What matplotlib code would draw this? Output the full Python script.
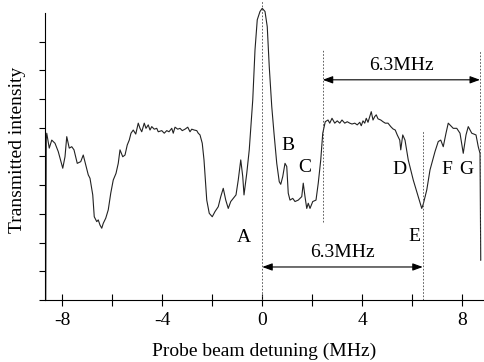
import matplotlib.pyplot as plt

plt.rcParams['font.family'] = ['Liberation Serif', 'DejaVu Serif']

# detuning (MHz) and transmitted intensity (arb. units)
detuning = [
    -8.66, -8.64, -8.62, -8.52, -8.42, -8.29, -8.16, -7.98, -7.89, -7.82,
    -7.72, -7.62, -7.53, -7.40, -7.26, -7.16, -7.06, -6.96, -6.89, -6.78,
    -6.72, -6.62, -6.56, -6.49, -6.42, -6.36, -6.26, -6.16, -6.06, -5.96,
    -5.85, -5.76, -5.69, -5.58, -5.49, -5.40, -5.32, -5.25, -5.16, -5.06,
    -4.96, -4.89, -4.82, -4.72, -4.65, -4.56, -4.49, -4.42, -4.32, -4.22,
    -4.16, -4.02, -3.92, -3.82, -3.73, -3.62, -3.56, -3.49, -3.38, -3.29,
    -3.20, -3.09, -2.98, -2.89, -2.82, -2.72, -2.62, -2.56, -2.49, -2.40,
    -2.33, -2.22, -2.12, -2.00, -1.89, -1.76, -1.66, -1.56, -1.46, -1.36,
    -1.26, -1.16, -1.05, -0.96, -0.86, -0.78, -0.73, -0.62, -0.52, -0.38,
    -0.29, -0.20, -0.09, 0.00, 0.11, 0.20, 0.28, 0.38, 0.47, 0.58,
    0.68, 0.74, 0.82, 0.91, 0.98, 1.04, 1.11, 1.22, 1.31, 1.44,
    1.58, 1.64, 1.71, 1.78, 1.84, 1.91, 2.02, 2.15, 2.24, 2.34,
    2.42, 2.52, 2.63, 2.70, 2.79, 2.90, 3.00, 3.10, 3.19, 3.30,
    3.40, 3.50, 3.59, 3.70, 3.80, 3.90, 3.96, 4.03, 4.10, 4.16,
    4.23, 4.30, 4.36, 4.43, 4.50, 4.56, 4.63, 4.74, 4.83, 4.92,
    5.03, 5.14, 5.23, 5.32, 5.40, 5.50, 5.54, 5.62, 5.71, 5.84,
    6.04, 6.24, 6.38, 6.44, 6.58, 6.71, 6.91, 7.04, 7.14, 7.24,
    7.35, 7.44, 7.64, 7.78, 7.91, 8.04, 8.15, 8.24, 8.38, 8.55,
    8.64, 8.71, 8.74,
]
intensity = [
    0.00, 5.60, 5.81, 5.29, 5.57, 5.46, 5.17, 4.59, 4.99, 5.69,
    5.29, 5.34, 5.23, 4.76, 4.82, 5.05, 4.70, 4.36, 4.24, 3.66,
    2.90, 2.73, 2.79, 2.61, 2.50, 2.67, 2.85, 3.14, 3.72, 4.18,
    4.41, 4.76, 5.23, 4.99, 5.05, 5.40, 5.57, 5.81, 5.92, 5.78,
    6.16, 5.98, 5.86, 6.16, 5.98, 6.10, 5.92, 6.04, 5.95, 5.98,
    5.86, 5.90, 5.81, 5.90, 5.86, 5.98, 5.81, 6.02, 5.95, 5.98,
    5.90, 5.95, 6.02, 5.86, 5.95, 5.92, 5.90, 5.81, 5.75, 5.46,
    4.88, 3.48, 3.02, 2.90, 3.08, 3.25, 3.60, 3.89, 3.48, 3.19,
    3.43, 3.54, 3.66, 4.18, 4.88, 4.30, 3.66, 4.41, 5.23, 6.97,
    8.71, 9.76, 10.05, 10.16, 10.05, 9.52, 8.13, 6.74, 5.81, 4.76,
    4.12, 4.03, 4.30, 4.76, 4.65, 3.72, 3.48, 3.54, 3.43, 3.48,
    3.60, 4.07, 3.60, 3.19, 3.37, 3.19, 3.43, 3.48, 4.07, 4.88,
    5.81, 6.21, 6.27, 6.16, 6.33, 6.16, 6.24, 6.16, 6.27, 6.16,
    6.21, 6.16, 6.13, 6.16, 6.10, 6.19, 6.07, 6.24, 6.16, 6.33,
    6.19, 6.39, 6.56, 6.27, 6.39, 6.45, 6.31, 6.27, 6.21, 6.16,
    6.16, 6.04, 5.96, 5.92, 5.75, 5.57, 5.23, 5.75, 5.57, 4.88,
    4.18, 3.60, 3.19, 3.34, 3.83, 4.53, 5.17, 5.52, 5.57, 5.34,
    5.81, 6.16, 5.98, 5.98, 5.81, 5.11, 5.75, 6.04, 5.81, 5.75,
    5.34, 5.11, 1.39,
]

peak_labels = ['A', 'B', 'C', 'D', 'E', 'F', 'G']
peak_x = [-0.73, 1.04, 1.71, 5.50, 6.07, 7.39, 8.15]
peak_y = [2.17, 5.37, 4.60, 4.53, 2.20, 4.56, 4.56]

# vertical guide lines: x, ymin, ymax
guides = [(0.0, 0.0, 10.45), (2.42, 2.72, 8.71), (6.42, 0.0, 5.92), (8.71, 1.40, 8.71)]
# splittings: x start, x end, arrow height, text
spans = [(2.42, 8.71, 7.67, '6.3MHz'), (0.0, 6.42, 1.15, '6.3MHz')]

fig = plt.figure(figsize=(4.84, 3.62), dpi=100)
ax = fig.add_axes([45 / 484, 62 / 362, 439 / 484, 300 / 362])

ax.plot(detuning, intensity, color='#222222', lw=0.8)

for x, y0, y1 in guides:
    ax.plot([x, x], [y0, y1], color='#444444', lw=0.6, ls=(0, (2, 2)))

for x0, x1, y, txt in spans:
    ax.annotate('', xy=(x1, y), xytext=(x0, y),
                arrowprops=dict(arrowstyle='<|-|>,head_length=0.6,head_width=0.22',
                                color='black', lw=0.8, shrinkA=0, shrinkB=0))
    ax.text((x0 + x1) / 2, y + 0.2, txt, ha='center', va='bottom', fontsize=14)

for lab, x, y in zip(peak_labels, peak_x, peak_y):
    ax.text(x, y, lab, ha='center', va='center', fontsize=14)

ax.set_xlim(-8.69, 8.87)
ax.set_ylim(0, 10.45)
ax.spines['top'].set_visible(False)
ax.spines['right'].set_visible(False)
ax.spines['left'].set_bounds(0, 10)

ax.set_xticks(range(-8, 9, 2))
ax.set_xticklabels(['-8', '', '-4', '', '0', '', '4', '', '8'])
ax.set_yticks(range(0, 10))
ax.set_yticklabels([])
ax.tick_params(axis='x', direction='inout', length=9, width=0.8, labelsize=14, pad=4)
ax.tick_params(axis='y', direction='out', length=4, width=0.8)

ax.set_xlabel('Probe beam detuning (MHz)', fontsize=14, labelpad=10)
ax.set_ylabel('Transmitted intensity', fontsize=14, labelpad=6)

fig.savefig('out.png', dpi=100)
